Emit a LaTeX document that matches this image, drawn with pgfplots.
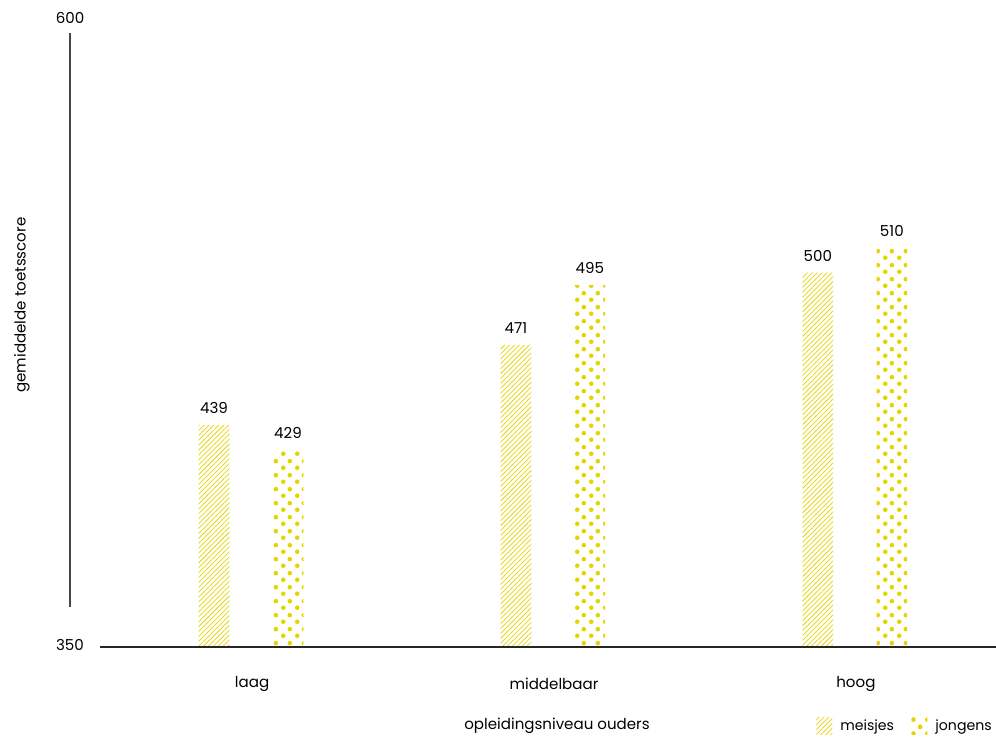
\documentclass[border=0pt]{standalone}
\usepackage{fontspec}
\setmainfont{Poppins}
\usepackage{pgfplots}
\pgfplotsset{compat=1.18}
\usetikzlibrary{patterns.meta}
\definecolor{ylw}{RGB}{228,212,0}
\definecolor{axgray}{RGB}{70,70,70}
\tikzdeclarepattern{
  name=bigdots,
  type=uncolored,
  bottom left={(0pt,0pt)},
  top right={(10.5pt,10.5pt)},
  tile size={(10.5pt,10.5pt)},
  code={
    \fill (2.625pt,2.625pt) circle (1.85pt);
    \fill (7.875pt,7.875pt) circle (1.85pt);
  }
}
\pgfplotsset{swatch/.style={legend image code/.code={\path[##1] (0pt,-6.3pt) rectangle (12pt,6.3pt);}}}
\newcommand{\fs}{\fontsize{11.3}{13}\selectfont}
\newcommand{\fl}{\fontsize{10.6}{12}\selectfont}
\begin{document}
\begin{tikzpicture}
\useasboundingbox (-52.5pt,-67.5pt) rectangle (694.5pt,485.25pt);
\begin{axis}[
  at={(0,0)}, anchor=south west,
  scale only axis, width=694.5pt, height=468pt,
  xmin=-0.603, xmax=2.464, ymin=350, ymax=600,
  axis line style={draw=none},
  xtick=\empty, ytick=\empty,
  ybar, bar width=23pt, bar shift=0pt,
  clip=false,
  font=\fs,
  /pgf/number format/assume math mode=true,
  nodes near coords,
  every node near coord/.append style={font=\fs, color=black, yshift=5pt},
  legend style={at={(0.8056,-0.127)}, anchor=west, draw=none, fill=none,
    inner sep=0pt, font=\fl,
    /tikz/every odd column/.append style={column sep=4pt},
    /tikz/every even column/.append style={column sep=11pt}},
  legend columns=2,
]
\addplot[draw=none, pattern={Lines[angle=45,distance=2.6pt,line width=0.55pt]}, pattern color=ylw, swatch]
  coordinates {(-0.126,439) (0.874,471) (1.874,500)};
\addplot[draw=none, pattern=bigdots, pattern color=ylw, swatch]
  coordinates {(0.119,429) (1.119,495) (2.119,510)};
\legend{meisjes, jongens}
\draw[axgray, line width=1pt] (axis cs:-0.603,366) -- (axis cs:-0.603,596);
\draw[black!85, line width=0.9pt] (axis cs:-0.503,350) -- (axis cs:2.464,350);
\node[font=\fs] at (axis cs:-0.603,350.8) {350};
\node[font=\fs] at (axis cs:-0.603,602) {600};
\node[font=\fs, rotate=90] at ([xshift=-36pt]axis cs:-0.603,487) {gemiddelde toetsscore};
\node[font=\fs] at ([yshift=-27.75pt]axis cs:0,350) {laag};
\node[font=\fs] at ([yshift=-27.75pt]axis cs:1,350) {middelbaar};
\node[font=\fs] at ([yshift=-27.75pt]axis cs:2,350) {hoog};
\node[font=\fs] at ([yshift=-59.25pt]axis cs:1.01,350) {opleidingsniveau ouders};
\end{axis}
\end{tikzpicture}
\end{document}
